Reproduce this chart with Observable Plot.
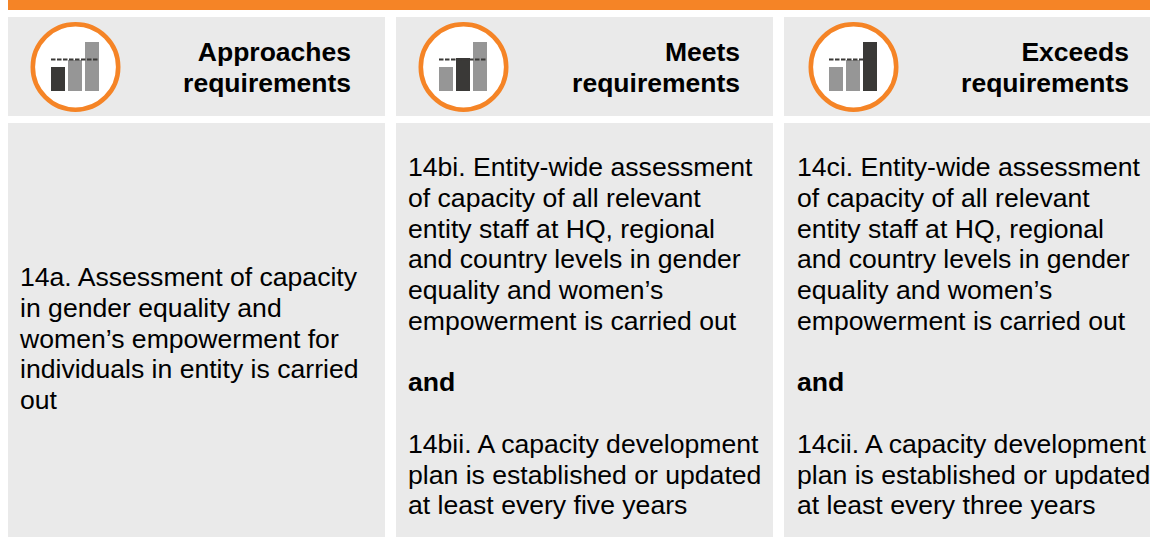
<!DOCTYPE html>
<html>
<head>
<meta charset="utf-8">
<script src="https://cdn.jsdelivr.net/npm/d3@7"></script>
<script src="https://cdn.jsdelivr.net/npm/@observablehq/plot@0.6"></script>
<style>
html,body{margin:0;padding:0;background:#fff;width:1150px;height:537px;overflow:hidden}
body{position:relative;font-family:"Liberation Sans",Arial,sans-serif;color:#000}
.top{position:absolute;left:8px;top:0;width:1142px;height:10px;background:#f58426}
.panel{position:absolute;background:#eaeaea}
.head{top:17px;height:99px}
.body{top:123px;height:414px}
.title{position:absolute;text-align:right;font-weight:bold;font-size:26.5px;line-height:31px;white-space:nowrap}
.text{position:absolute;font-size:26.6px;line-height:30.75px;white-space:nowrap}
.icon{position:absolute;top:22px;width:90px;height:90px}
.icon svg{display:block;background:transparent;overflow:visible}
</style>
</head>
<body>
<div class="top"></div>
<script>
const levels = ["Approaches", "Meets", "Exceeds"];
const barNames = ["low", "middle", "high"];
const barValues = [24, 31, 49];
const highlightedValues = [24, 33, 49];
const thresholdValue = 32;
const bodyLines = [
  ["14a. Assessment of capacity", "in gender equality and", "women’s empowerment for", "individuals in entity is carried", "out"],
  ["14bi. Entity-wide assessment", "of capacity of all relevant", "entity staff at HQ, regional", "and country levels in gender", "equality and women’s", "empowerment is carried out", "", "<b>and</b>", "", "14bii. A capacity development", "plan is established or updated", "at least every five years"],
  ["14ci. Entity-wide assessment", "of capacity of all relevant", "entity staff at HQ, regional", "and country levels in gender", "equality and women’s", "empowerment is carried out", "", "<b>and</b>", "", "14cii. A capacity development", "plan is established or updated", "at least every three years"]
];
const layout = [
  {left: 8, width: 377, icon: 30, titleRight: 351, textLeft: 20, textTop: 262},
  {left: 396, width: 377, icon: 418, titleRight: 740, textLeft: 408, textTop: 152},
  {left: 784, width: 366, icon: 807.5, titleRight: 1129, textLeft: 797, textTop: 152}
];

function add(cls, style, html) {
  const d = document.createElement("div");
  d.className = cls;
  Object.assign(d.style, style);
  if (html !== undefined) d.innerHTML = html;
  document.body.appendChild(d);
  return d;
}

levels.forEach((level, i) => {
  const p = layout[i];
  add("panel head", {left: p.left + "px", width: p.width + "px"});
  add("panel body", {left: p.left + "px", width: p.width + "px"});
  add("title", {right: (1150 - p.titleRight) + "px", top: "37px"}, level + "<br>requirements");
  add("text", {left: p.textLeft + "px", top: p.textTop + "px"}, bodyLines[i].map(l => l === "" ? "&nbsp;" : l).join("<br>"));

  const rows = barNames.map((name, j) => ({
    name,
    value: j === i ? highlightedValues[j] : barValues[j],
    active: j === i
  }));
  const chart = Plot.plot({
    width: 90, height: 90,
    marginLeft: 21, marginRight: 21, marginTop: 20, marginBottom: 21,
    x: {type: "band", domain: barNames, paddingInner: 3 / 17, paddingOuter: 0, axis: null},
    y: {domain: [0, 49], axis: null},
    style: {background: "transparent", overflow: "visible"},
    marks: [
      Plot.dot([0], {frameAnchor: "middle", r: 42.7, fill: "#fff", stroke: "#f58426", strokeWidth: 4.6}),
      Plot.barY(rows, {x: "name", y: "value", fill: d => d.active ? "#3a3937" : "#969696"}),
      Plot.ruleY([thresholdValue], {stroke: "#3a3937", strokeWidth: 2, strokeDasharray: "4.5,1.5"})
    ]
  });
  const holder = add("icon", {left: p.icon + "px"});
  holder.appendChild(chart);
});
</script>
</body>
</html>
